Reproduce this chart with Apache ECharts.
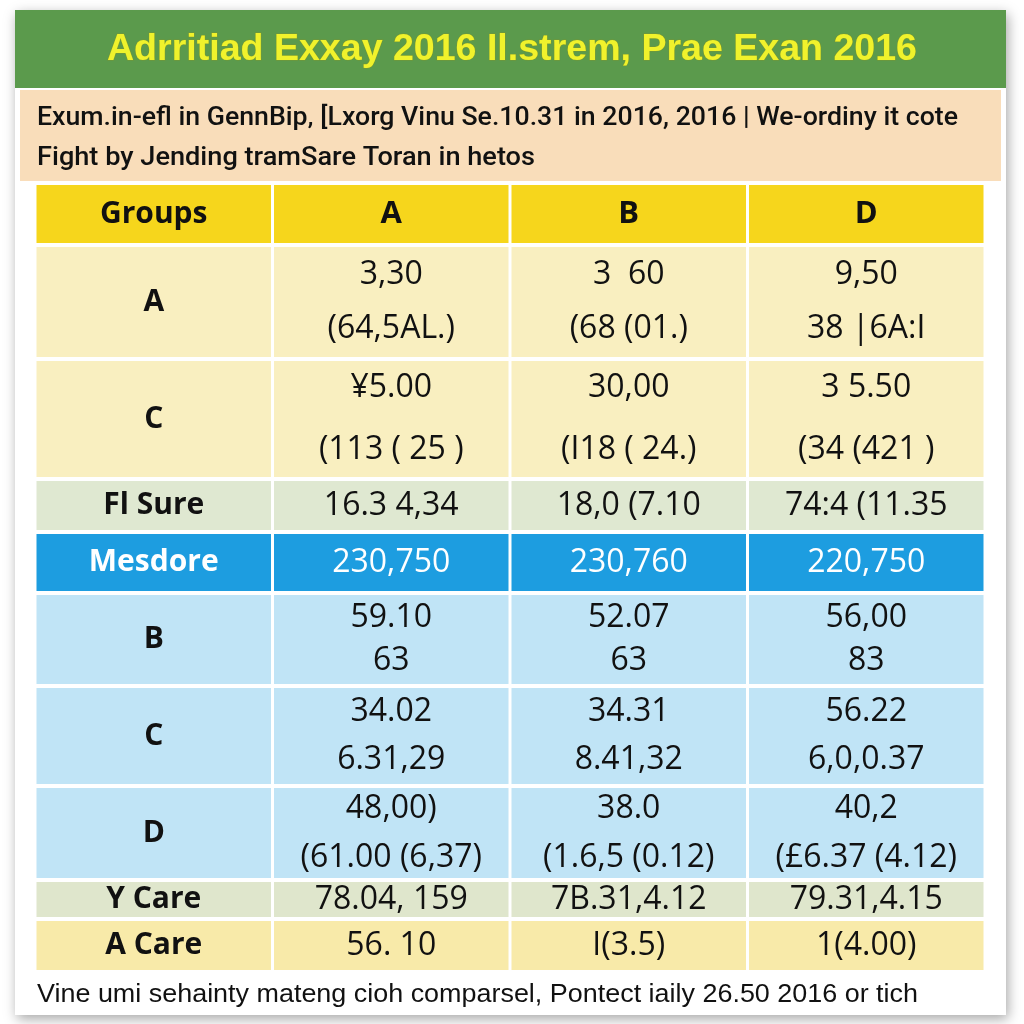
<!DOCTYPE html>
<html><head><meta charset="utf-8">
<script src="https://cdn.jsdelivr.net/npm/echarts@6/dist/echarts.min.js"></script>
<style>html,body{margin:0;padding:0;background:#fff}#c{width:1024px;height:1024px}</style>
</head><body><div id="c"></div>
<script>
// ---- data ----
const titleText = 'Adrritiad Exxay 2016 Il.strem, Prae Exan 2016';
const subLine1 = 'Exum.in-efl in GennBip\u201a [Lxorg Vinu Se.10.31 in 2016, 2016 | We-ordiny it cote';
const subLine2 = 'Fight by Jending tramSare Toran in hetos';
const footerText = 'Vine umi sehainty mateng cioh comparsel, Pontect iaily 26.50 2016 or tich';
const colHeaders = ['Groups', 'A', 'B', 'D'];
const rowLabels = ['A', 'C', 'Fl Sure', 'Mesdore', 'B', 'C', 'D', 'Y Care', 'A Care'];
const colA = ['3,30\n(64,5AL.)', '¥5.00\n(113 ( 25 )', '16.3 4,34', '230,750', '59.10\n63', '34.02\n6.31,29', '48,00)\n(61.00 (6,37)', '78.04, 159', '56. 10'];
const colB = ['3  60\n(68 (01.)', '30,00\n(I18 ( 24.)', '18,0 (7.10', '230,760', '52.07\n63', '34.31\n8.41,32', '38.0\n(1.6,5 (0.12)', '7B.31,4.12', 'I(3.5)'];
const colD = ['9,50\n38 |6A:I', '3 5.50\n(34 (421 )', '74:4 (11.35', '220,750', '56,00\n83', '56.22\n6,0,0.37', '40,2\n(£6.37 (4.12)', '79.31,4.15', '1(4.00)'];

// ---- layout / style ----
const rowHeights = [62, 114, 120, 53, 61, 93, 100, 94, 39, 53];
const rowFills = ['#f6d61c', '#f9efc0', '#f9efc0', '#dfe8d1', '#1d9de0', '#c0e4f6', '#c0e4f6', '#c0e4f6', '#dfe6cc', '#f8eaa9'];
const rowLineH = [40, 54, 62, 40, 40, 43, 48, 49, 36, 40];
const cum = [0];
rowHeights.forEach(h => cum.push(cum[cum.length - 1] + h));
const total = cum[cum.length - 1];
const cols = [colA, colB, colD];
const SANS = '"Liberation Sans", Arial, sans-serif';
const CELLF = '"Open Sans", "Noto Sans", sans-serif';

const mctx = document.createElement('canvas').getContext('2d');
function fitScale(text, font, target) {
  mctx.font = font;
  return target / mctx.measureText(text).width;
}

const cells = [];
for (let r = 0; r < rowHeights.length; r++) {
  for (let c = 0; c < 4; c++) {
    let text;
    if (r === 0) text = colHeaders[c];
    else if (c === 0) text = rowLabels[r - 1];
    else text = cols[c - 1][r - 1];
    cells.push({ value: [c, r], text });
  }
}

function renderItem(params, api) {
  const c = api.value(0), r = api.value(1);
  const pTop = api.coord([c, cum[r]]);
  const pBot = api.coord([c, cum[r + 1]]);
  const w = api.size([1, 0])[0];
  const x = pTop[0] - w / 2 + 1.5, y = pTop[1] + 2;
  const cw = w - 3, ch = pBot[1] - pTop[1] - 4;
  const d = cells[params.dataIndex];
  const isLabel = (r === 0 || c === 0);
  const isBlue = r === 4;
  let font;
  if (r === 0 && c > 0) font = 'bold 31px ' + CELLF;
  else if (isLabel) font = 'bold 30px ' + CELLF;
  else font = '32px ' + CELLF;
  return {
    type: 'group',
    children: [
      { type: 'rect', shape: { x, y, width: cw, height: ch }, style: { fill: rowFills[r] } },
      { type: 'text', style: { text: d.text, x: x + cw / 2, y: y + ch / 2, align: 'center', verticalAlign: 'middle',
        font, lineHeight: rowLineH[r], fill: isBlue ? '#ffffff' : '#111111' } }
    ]
  };
}

function fittedText(text, font, x, y, width, fill, align, extraStyle) {
  const s = fitScale(text, font, width);
  return { type: 'text', x, y, scaleX: s, scaleY: 1, z: 5,
    style: Object.assign({ text, font, fill, align: align || 'left', verticalAlign: 'middle' }, extraStyle || {}) };
}

const titleFont = 'bold 37px ' + SANS;
const subFont = '500 26px Roboto, ' + SANS;
const footFont = '25px ' + SANS;

const chart = echarts.init(document.getElementById('c'), null, { renderer: 'canvas' });
chart.setOption({
  animation: false,
  backgroundColor: '#ffffff',
  grid: { left: 35, right: 39, top: 183, height: total, containLabel: false },
  xAxis: { type: 'category', data: colHeaders, show: false },
  yAxis: { type: 'value', min: 0, max: total, inverse: true, show: false },
  graphic: [
    { type: 'rect', z: -10, shape: { x: 15, y: 10, width: 991, height: 1005 }, style: { fill: '#ffffff', shadowBlur: 12, shadowColor: 'rgba(0,0,0,0.35)', shadowOffsetX: 2, shadowOffsetY: 4 } },
    { type: 'rect', z: -9, shape: { x: 15, y: 10, width: 991, height: 78 }, style: { fill: '#5b9a4c' } },
    { type: 'rect', z: -9, shape: { x: 20, y: 90, width: 981, height: 91 }, style: { fill: '#f9ddba' } },
    fittedText(titleText, titleFont, 512, 50, 810, '#f0f22c', 'center', { stroke: 'rgba(150,150,20,0.5)', lineWidth: 1 }),
    fittedText(subLine1, subFont, 37, 118, 921, '#111111'),
    fittedText(subLine2, subFont, 37, 158, 498, '#111111'),
    fittedText(footerText, footFont, 37, 995, 881, '#111111')
  ],
  series: [{ type: 'custom', renderItem, data: cells.map(d => d.value), silent: true }]
});
</script></body></html>
